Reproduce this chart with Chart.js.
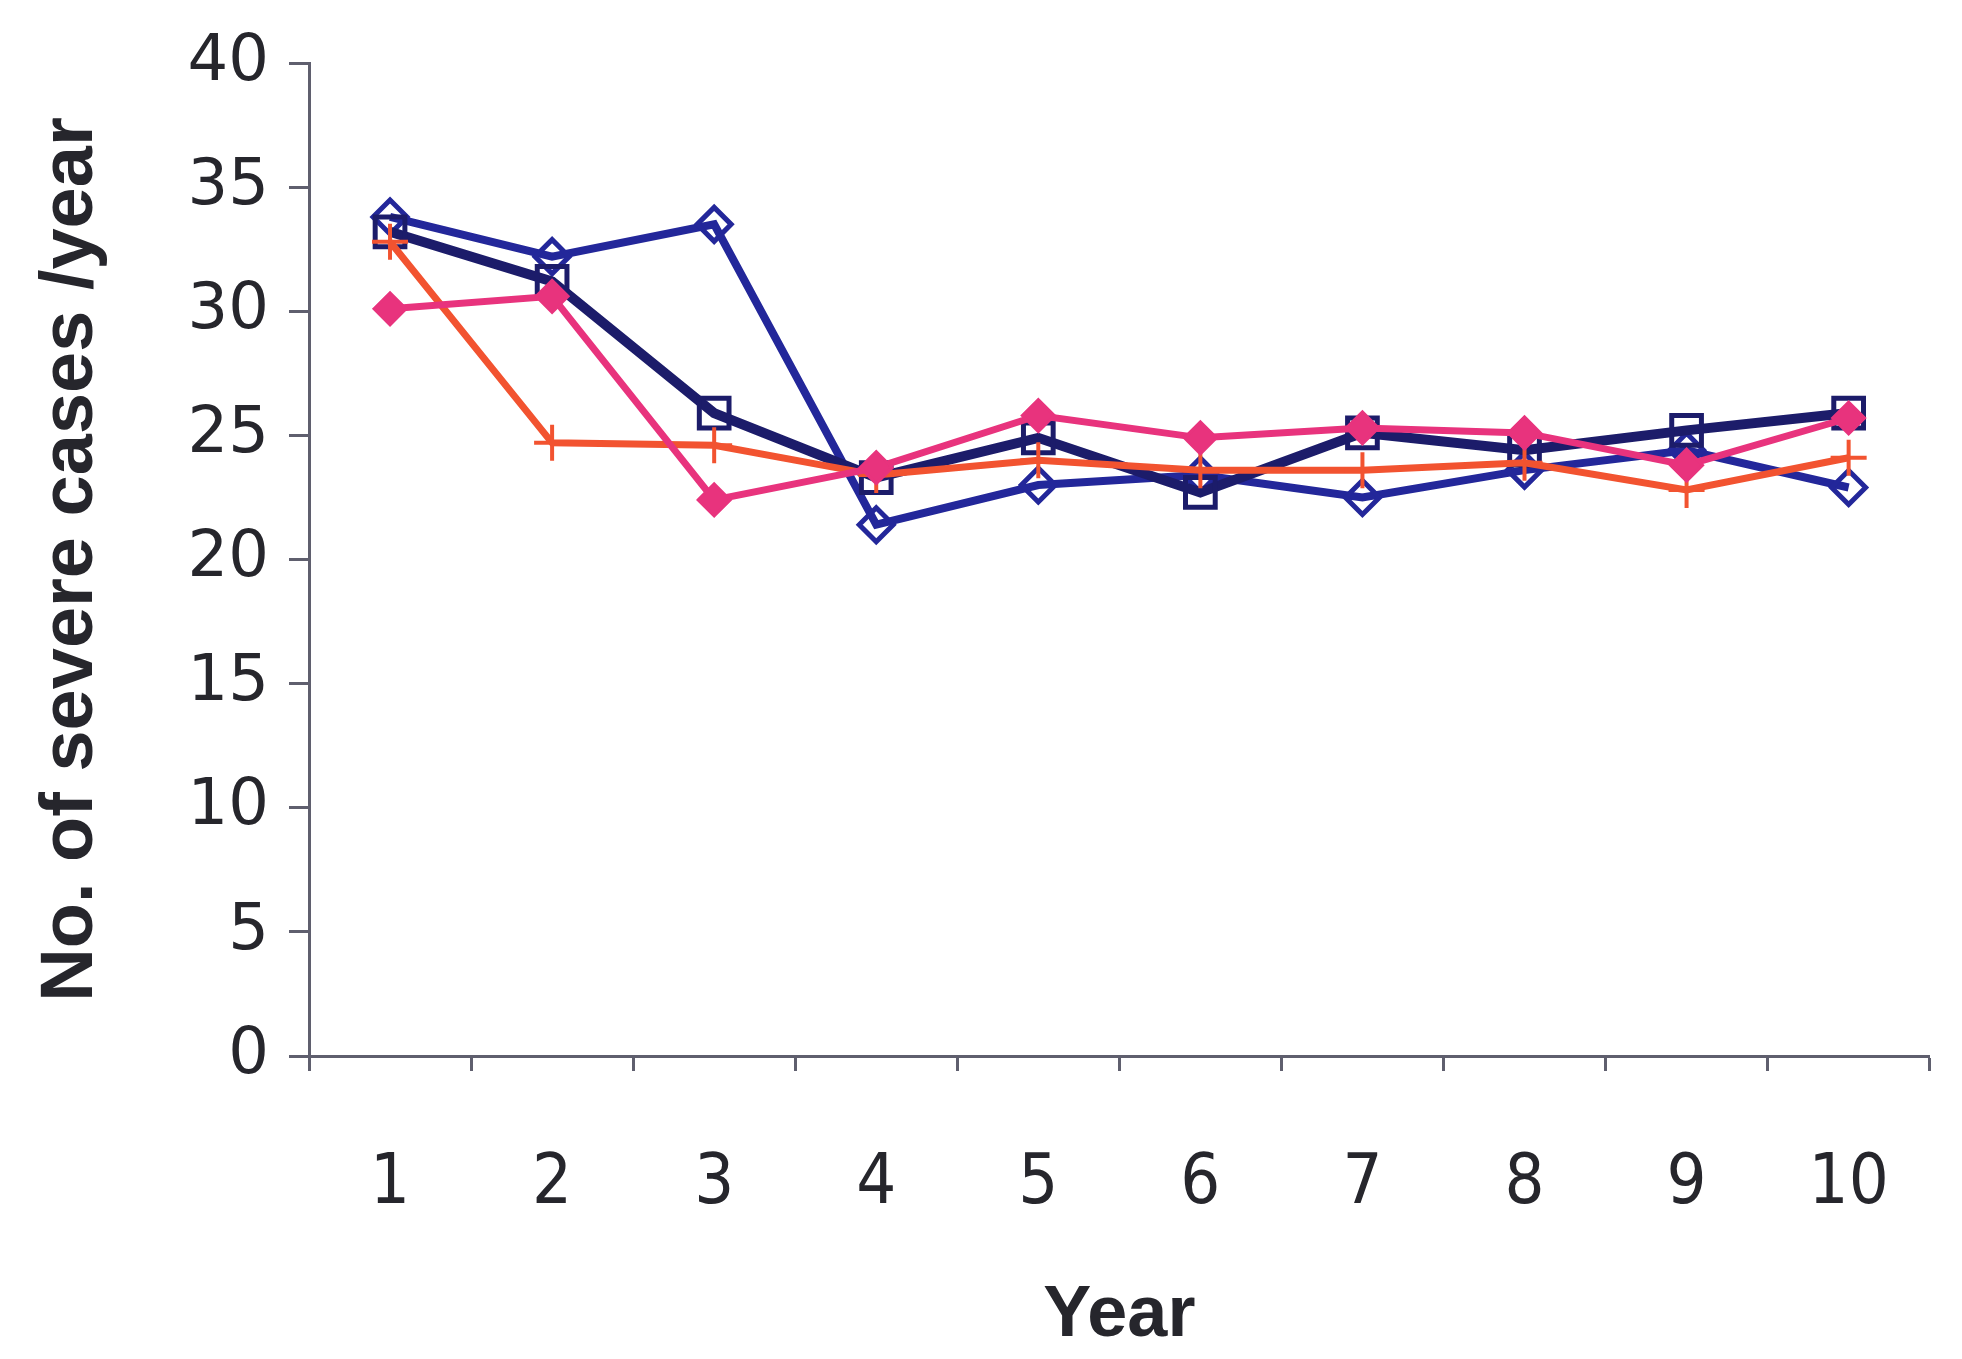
<!DOCTYPE html>
<html>
<head>
<meta charset="utf-8">
<script src="https://cdn.jsdelivr.net/npm/chart.js@4/dist/chart.umd.min.js"></script>
<style>
  html, body { margin: 0; padding: 0; background: #fff; }
  #wrap { width: 1962px; height: 1359px; }
</style>
</head>
<body>
<div id="wrap"><canvas id="chart" width="1962" height="1359"></canvas></div>
<script>
'use strict'

// years on the x axis
let years = ['1', '2', '3', '4', '5', '6', '7', '8', '9', '10'];

// severe cases per year
let blueDiamond = [33.8, 32.2, 33.5, 21.4, 23.0, 23.4, 22.5, 23.6, 24.4, 22.9];
let navySquare = [33.2, 31.2, 25.9, 23.3, 24.9, 22.7, 25.1, 24.4, 25.2, 25.9];
let pinkDiamond = [30.1, 30.6, 22.4, 23.7, 25.8, 24.9, 25.3, 25.1, 23.8, 25.7];
let orangeCross = [32.8, 24.7, 24.6, 23.4, 24.0, 23.6, 23.6, 23.9, 22.8, 24.1];

// y ticks
let yMin = 0;
let yMax = 40;
let yStep = 5;

let ctx = document.getElementById('chart').getContext('2d');

let axisColor = '#5f5f6e';
let textColor = '#26262c';

let myChartObj = {
  type: 'line',
  data: {
    labels: years,
    datasets: [
      {
        label: 'pink',
        data: pinkDiamond,
        borderColor: '#e8337d',
        backgroundColor: '#e8337d',
        borderWidth: 7,
        pointStyle: 'rectRot',
        pointRadius: 16,
        pointBorderWidth: 3
      },
      {
        label: 'orange',
        data: orangeCross,
        borderColor: '#f25330',
        backgroundColor: '#f25330',
        borderWidth: 7,
        pointStyle: 'cross',
        pointRadius: 18,
        pointBorderWidth: 4
      },
      {
        label: 'navy',
        data: navySquare,
        borderColor: '#1c1c6a',
        backgroundColor: 'rgba(255,255,255,0)',
        borderWidth: 10,
        pointStyle: 'rect',
        pointRadius: 21,
        pointBorderWidth: 5
      },
      {
        label: 'blue',
        data: blueDiamond,
        borderColor: '#23279a',
        backgroundColor: 'rgba(255,255,255,0)',
        borderWidth: 8,
        pointStyle: 'rectRot',
        pointRadius: 17,
        pointBorderWidth: 5
      }
    ]
  },
  options: {
    responsive: false,
    animation: false,
    layout: {
      padding: { top: 63, right: 0, left: 0, bottom: 0 }
    },
    plugins: {
      legend: { display: false },
      tooltip: { enabled: false }
    },
    elements: {
      line: { tension: 0 }
    },
    scales: {
      x: {
        offset: true,
        grid: {
          offset: true,
          drawOnChartArea: false,
          drawTicks: true,
          tickLength: 15,
          tickWidth: 3,
          tickColor: axisColor
        },
        border: { color: axisColor, width: 3 },
        ticks: {
          color: textColor,
          padding: 72,
          maxRotation: 0,
          font: { family: "'Liberation Sans Narrow', 'DejaVu Sans Condensed', sans-serif", size: 70 }
        },
        title: {
          display: true,
          text: 'Year',
          color: textColor,
          padding: { top: 2, bottom: 0 },
          font: { family: "'Liberation Sans', Arial, sans-serif", size: 72, weight: 'bold', lineHeight: 1.2 }
        },
        afterFit: function(scale) { scale.height = 303; }
      },
      y: {
        min: yMin,
        max: yMax,
        grid: {
          drawOnChartArea: false,
          drawTicks: true,
          tickLength: 20,
          tickWidth: 3,
          tickColor: axisColor
        },
        border: { color: axisColor, width: 3 },
        ticks: {
          stepSize: yStep,
          color: textColor,
          padding: 20,
          font: { family: "'DejaVu Sans', sans-serif", size: 64 }
        },
        title: {
          display: true,
          text: 'No. of severe cases /year',
          color: textColor,
          padding: { top: 27, bottom: 0 },
          font: { family: "'Liberation Sans', Arial, sans-serif", size: 74, weight: 'bold', lineHeight: 1.2 }
        },
        afterFit: function(scale) { scale.width = 309; }
      }
    }
  }
};

new Chart(ctx, myChartObj);
</script>
</body>
</html>
